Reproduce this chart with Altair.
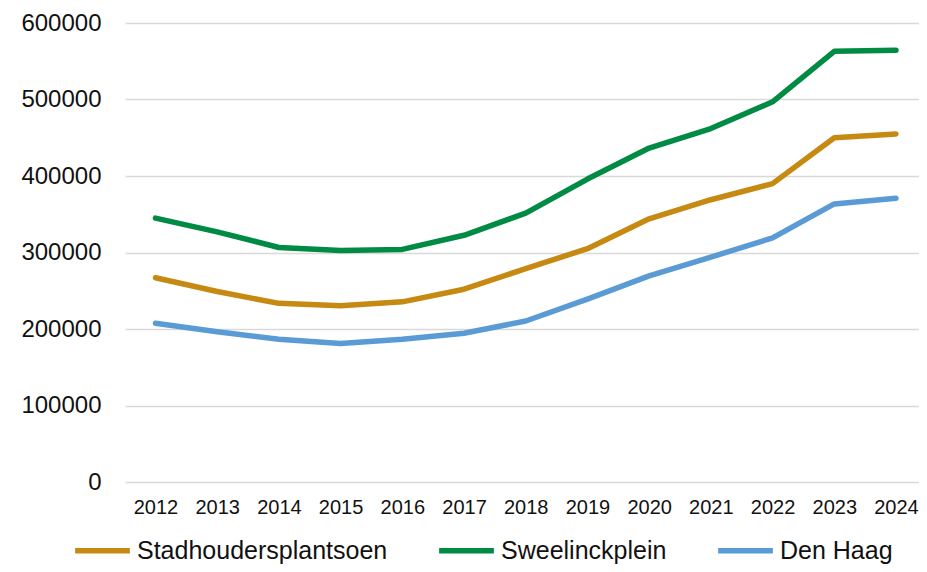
import altair as alt
import pandas as pd

years = list(range(2012, 2025))
stadhouders = [267000, 249000, 233500, 230500, 235500, 252000, 279000, 305000, 344000, 369000, 390000, 450000, 455000]
sweelinck = [345000, 327000, 306500, 302500, 304000, 322500, 351500, 396000, 436500, 462000, 497000, 563000, 564500]
denhaag = [207500, 196500, 186500, 181000, 186500, 194500, 210500, 239000, 269500, 294000, 319000, 363500, 371000]

series_names = ["Stadhoudersplantsoen", "Sweelinckplein", "Den Haag"]
series_colors = ["#C68A12", "#008B45", "#5B9BD5"]
y_ticks = [0, 100000, 200000, 300000, 400000, 500000, 600000]

rows = []
for name, vals in zip(series_names, [stadhouders, sweelinck, denhaag]):
    for yr, v in zip(years, vals):
        rows.append({"year": yr, "value": v, "series": name})
df = pd.DataFrame(rows)

FONT = "Liberation Sans"

chart = (
    alt.Chart(df)
    .mark_line(strokeWidth=5.5, strokeCap="round", strokeJoin="round")
    .encode(
        x=alt.X(
            "year:Q",
            scale=alt.Scale(domain=[2011.506, 2024.373], nice=False, zero=False),
            axis=alt.Axis(
                values=years,
                format="d",
                title=None,
                grid=False,
                domain=False,
                ticks=False,
                tickSize=0,
                labelFontSize=20,
                labelPadding=15,
                labelFont=FONT,
                labelColor="#111111",
                labelOverlap=False,
            ),
        ),
        y=alt.Y(
            "value:Q",
            scale=alt.Scale(domain=[0, 600000], nice=False),
            axis=alt.Axis(
                values=y_ticks,
                format="d",
                title=None,
                domain=False,
                ticks=False,
                tickSize=0,
                labelFontSize=24,
                labelPadding=24,
                labelFont=FONT,
                labelColor="#111111",
                gridColor="#D9D9D9",
                gridWidth=1.5,
            ),
        ),
        color=alt.Color(
            "series:N",
            sort=series_names,
            scale=alt.Scale(domain=series_names, range=series_colors),
            legend=alt.Legend(
                title=None,
                orient="none",
                direction="horizontal",
                legendX=-53,
                legendY=497,
                symbolType="stroke",
                symbolSize=3000,
                symbolStrokeWidth=5.5,
                labelFontSize=25,
                labelFont=FONT,
                labelColor="#111111",
                labelOffset=4,
                labelLimit=0,
                columnPadding=40,
                padding=0,
            ),
        ),
    )
    .properties(
        width=794,
        height=459,
        autosize=alt.AutoSizeParams(type="none"),
        padding={"left": 117, "top": 15, "right": 0, "bottom": 82},
    )
    .configure_view(stroke=None)
)

chart.save("out.html", embed_options={"renderer": "svg", "actions": False})
